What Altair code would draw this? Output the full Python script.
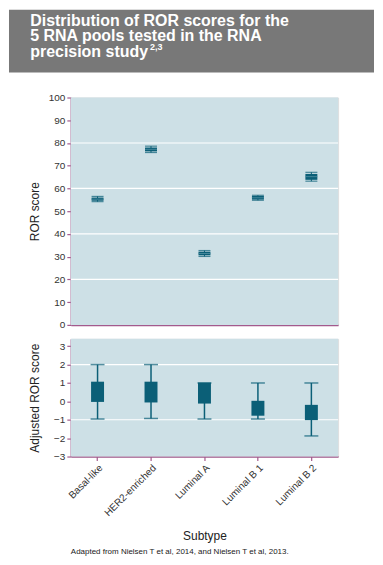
import altair as alt
import pandas as pd

# ---------------- data ----------------
subtypes = ["Basal-like", "HER2-enriched", "Luminal A", "Luminal B 1", "Luminal B 2"]

ror_whisker_low = [54.2, 75.8, 30.1, 54.8, 63.2]
ror_box_low = [54.6, 76.3, 30.6, 55.1, 63.8]
ror_median = [55.3, 77.2, 31.4, 55.9, 65.2]
ror_box_high = [56.0, 78.0, 32.2, 56.7, 66.4]
ror_whisker_high = [56.5, 78.6, 32.7, 57.0, 67.1]

adj_whisker_low = [-0.96, -0.93, -0.96, -0.96, -1.88]
adj_box_low = [-0.03, -0.06, -0.12, -0.78, -1.02]
adj_box_high = [1.07, 1.07, 1.02, 0.03, -0.19]
adj_whisker_high = [2.0, 2.0, 1.0, 1.0, 1.0]

ror_ticks = [0, 10, 20, 30, 40, 50, 60, 70, 80, 90, 100]
ror_grid = [20, 40, 60, 80]
adj_ticks = [-3, -2, -1, 0, 1, 2, 3]
adj_grid = [-1, 2]

title_lines = ["Distribution of ROR scores for the",
               "5 RNA pools tested in the RNA",
               "precision study"]
title_sup = "2,3"
ror_title = "ROR score"
adj_title = "Adjusted ROR score"
x_title = "Subtype"
footnote = "Adapted from Nielsen T et al, 2014, and Nielsen T et al, 2013."

# ---------------- styles ----------------
BG = "#cde0e6"
TEAL = "#0b5f77"
MED = "#5d97aa"
AXIS = "#a35a8c"
BANNER = "#787878"
TXT = "#333333"
FONT = "Liberation Sans"
W = 268
H_TOP = 228
H_BOT = 118

top_df = pd.DataFrame({
    "subtype": subtypes,
    "wlo": ror_whisker_low, "blo": ror_box_low, "med": ror_median,
    "bhi": ror_box_high, "whi": ror_whisker_high,
})
bot_df = pd.DataFrame({
    "subtype": subtypes,
    "wlo": adj_whisker_low, "blo": adj_box_low,
    "bhi": adj_box_high, "whi": adj_whisker_high,
})

xscale = alt.Scale(type="band", paddingInner=0, paddingOuter=0, domain=subtypes)

top_xaxis = alt.Axis(labels=False, ticks=False, title=None, grid=False,
                     domainColor=AXIS, domainWidth=1.5)
bot_xaxis = alt.Axis(labelAngle=-45, labelFontSize=10, labelColor=TXT, labelFont=FONT,
                     tickColor=AXIS, tickSize=4, tickWidth=1.2,
                     domainColor=AXIS, domainWidth=1.5, grid=False,
                     title=x_title, titleFontSize=12, titleFontWeight="normal",
                     titleColor="#222222", titleFont=FONT,
                     titleX=W / 2, titleY=79, titleBaseline="middle")


def yaxis(values, title, h):
    return alt.Axis(values=values, labelFontSize=10, labelColor=TXT, labelFont=FONT,
                    tickColor=AXIS, tickSize=4, tickWidth=1.2, labelPadding=2,
                    domainColor=AXIS, domainWidth=1.5, grid=False,
                    title=title, titleFontSize=12, titleFontWeight="normal",
                    titleColor="#222222", titleFont=FONT,
                    titleX=-29, titleY=h / 2)


top_ys = alt.Scale(domain=[0, 100], nice=False, zero=False)
bot_ys = alt.Scale(domain=[-3, 3.4], nice=False, zero=False)
top_ax = yaxis(ror_ticks, ror_title, H_TOP)
bot_ax = yaxis(adj_ticks, adj_title, H_BOT)


def X(axis):
    return alt.X("subtype:N", sort=subtypes, scale=xscale, axis=axis)


one = pd.DataFrame({"t": [title_sup]})


def panel_bg(h):
    return alt.Chart(one).mark_rect(color=BG).encode(
        x=alt.value(0), x2=alt.value(W), y=alt.value(0), y2=alt.value(h))


# ---------------- top panel ----------------
top_grid = alt.Chart(pd.DataFrame({"blo": ror_grid})).mark_rule(
    color="white", strokeWidth=1.2
).encode(y=alt.Y("blo:Q", scale=top_ys, axis=top_ax))

top_base = alt.Chart(top_df)
top_whisk = top_base.mark_rule(color=TEAL, strokeWidth=1).encode(
    x=X(top_xaxis), y=alt.Y("wlo:Q", scale=top_ys, axis=top_ax), y2="whi:Q")
top_cap_lo = top_base.mark_tick(color=TEAL, size=12, thickness=1.2, orient="horizontal").encode(
    x=X(top_xaxis), y=alt.Y("wlo:Q", scale=top_ys, axis=top_ax))
top_cap_hi = top_base.mark_tick(color=TEAL, size=12, thickness=1.2, orient="horizontal").encode(
    x=X(top_xaxis), y=alt.Y("whi:Q", scale=top_ys, axis=top_ax))
top_box = top_base.mark_bar(color=TEAL, size=12).encode(
    x=X(top_xaxis), y=alt.Y("blo:Q", scale=top_ys, axis=top_ax), y2="bhi:Q")
top_med = top_base.mark_tick(color=MED, size=12, thickness=1, orient="horizontal").encode(
    x=X(top_xaxis), y=alt.Y("med:Q", scale=top_ys, axis=top_ax))

banner = alt.Chart(one).mark_rect(color=BANNER).encode(
    x=alt.value(-62), x2=alt.value(W + 36), y=alt.value(-88), y2=alt.value(-25))

title_layers = []
for i, line in enumerate(title_lines):
    title_layers.append(
        alt.Chart(pd.DataFrame({"t": [line]})).mark_text(
            align="left", baseline="alphabetic", font=FONT, fontSize=16,
            fontWeight="bold", color="white"
        ).encode(x=alt.value(-40.7), y=alt.value(-72 + 15.5 * i), text="t:N")
    )
sup = alt.Chart(one).mark_text(
    align="left", baseline="alphabetic", font=FONT, fontSize=9,
    fontWeight="bold", color="white"
).encode(x=alt.value(-40.7 + 120), y=alt.value(-48), text="t:N")

top = alt.layer(
    panel_bg(H_TOP), top_grid, top_whisk, top_cap_lo, top_cap_hi, top_box, top_med,
    banner, *title_layers, sup
).properties(width=W, height=H_TOP)

# ---------------- bottom panel ----------------
bot_grid = alt.Chart(pd.DataFrame({"blo": adj_grid})).mark_rule(
    color="white", strokeWidth=1.2
).encode(y=alt.Y("blo:Q", scale=bot_ys, axis=bot_ax))

bot_base = alt.Chart(bot_df)
bot_whisk = bot_base.mark_rule(color=TEAL, strokeWidth=1.5).encode(
    x=X(bot_xaxis), y=alt.Y("wlo:Q", scale=bot_ys, axis=bot_ax), y2="whi:Q")
bot_cap_lo = bot_base.mark_tick(color=TEAL, size=14, thickness=1.5, orient="horizontal").encode(
    x=X(bot_xaxis), y=alt.Y("wlo:Q", scale=bot_ys, axis=bot_ax))
bot_cap_hi = bot_base.mark_tick(color=TEAL, size=14, thickness=1.5, orient="horizontal").encode(
    x=X(bot_xaxis), y=alt.Y("whi:Q", scale=bot_ys, axis=bot_ax))
bot_box = bot_base.mark_bar(color=TEAL, size=13).encode(
    x=X(bot_xaxis), y=alt.Y("blo:Q", scale=bot_ys, axis=bot_ax), y2="bhi:Q")

foot = alt.Chart(pd.DataFrame({"t": [footnote]})).mark_text(
    align="left", baseline="middle", font=FONT, fontSize=8, color="#222222"
).encode(x=alt.value(0), y=alt.value(214), text="t:N")

bottom = alt.layer(
    panel_bg(H_BOT), bot_grid, bot_whisk, bot_cap_lo, bot_cap_hi, bot_box, foot
).properties(width=W, height=H_BOT)

chart = alt.vconcat(
    top, bottom, spacing=14, bounds="flush", padding=0
).configure_view(stroke=None).configure(font=FONT, background="white")

chart.save("out.html", embed_options={"renderer": "svg", "actions": False})
